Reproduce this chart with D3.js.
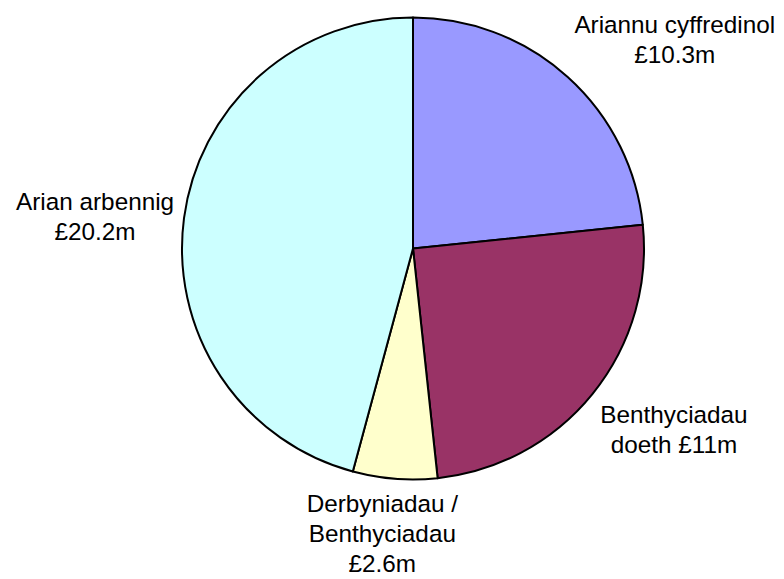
<!DOCTYPE html>
<html>
<head>
<meta charset="utf-8">
<script src="https://cdn.jsdelivr.net/npm/d3@7/dist/d3.min.js"></script>
<style>
body { margin: 0; background: #fff; }
</style>
</head>
<body>
<script>
// chart data
var categories = ['Ariannu cyffredinol', 'Benthyciadau doeth', 'Derbyniadau / Benthyciadau', 'Arian arbennig'],
	values = [10.3, 11, 2.6, 20.2],
	// label text, one entry per line
	labelLines = [
		['Ariannu cyffredinol', '£10.3m'],
		['Benthyciadau', 'doeth £11m'],
		['Derbyniadau /', 'Benthyciadau', '£2.6m'],
		['Arian arbennig', '£20.2m']
	],
	colors = ['#9999ff', '#993366', '#ffffcc', '#ccffff'];

// sizing
var W = 784, H = 579,
	cx = 413, cy = 248.5, radius = 231,
	label_gap = 10, font_size = 24.3, line_h = 30;

var svg = d3.select('body').append('svg')
	.attr('width', W)
	.attr('height', H);

var pie = d3.pie().sort(null).value(function(d) { return d; });
var arc = d3.arc().innerRadius(0).outerRadius(radius);
var arcs = pie(values);

var g = svg.append('g').attr('transform', 'translate(' + cx + ',' + cy + ')');

// slices
g.selectAll('path.slice')
	.data(arcs)
	.enter().append('path')
	.attr('class', 'slice')
	.attr('d', arc)
	.attr('fill', function(d, i) { return colors[i]; })
	.attr('stroke', 'black')
	.attr('stroke-width', 2)
	.attr('stroke-linejoin', 'round');

// measure text width for label boxes
var measure = svg.append('text')
	.attr('font-family', 'Arial, "Liberation Sans", sans-serif')
	.attr('font-size', font_size)
	.attr('visibility', 'hidden');
function text_width(s) {
	measure.text(s);
	return measure.node().getComputedTextLength();
}

function clamp(v) { return Math.max(0, Math.min(1, v)); }

// labels sit just outside the pie at each slice's mid angle
arcs.forEach(function(d, i) {
	var a = (d.startAngle + d.endAngle) / 2,
		sx = Math.sin(a), dy = -Math.cos(a),
		px = (radius + label_gap) * sx,
		py = (radius + label_gap) * dy,
		lines = labelLines[i],
		w = d3.max(lines, text_width),
		h = lines.length * line_h;

	var left = px - w * clamp(0.5 - sx),
		top = py - h * (dy < -0.5 ? 1 : dy > 0.5 ? 0 : 0.5);

	var t = g.append('text')
		.attr('font-family', 'Arial, "Liberation Sans", sans-serif')
		.attr('font-size', font_size)
		.attr('fill', 'black')
		.attr('text-anchor', 'middle');
	lines.forEach(function(s, j) {
		t.append('tspan')
			.attr('x', left + w / 2)
			.attr('y', top + j * line_h + 23)
			.text(s);
	});
});
measure.remove();
</script>
</body>
</html>
